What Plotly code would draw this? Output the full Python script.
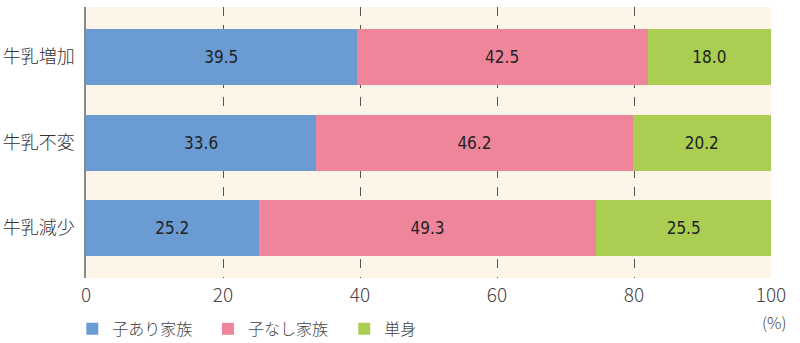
import plotly.graph_objects as go

categories = ["牛乳増加", "牛乳不変", "牛乳減少"]
series_names = ["子あり家族", "子なし家族", "単身"]
with_children = [39.5, 33.6, 25.2]
without_children = [42.5, 46.2, 49.3]
single = [18.0, 20.2, 25.5]
x_ticks = [0, 20, 40, 60, 80, 100]

colors = ["#6b9bd3", "#ef859a", "#a9ce52"]
values = [with_children, without_children, single]
legend_ids = ["legend", "legend2", "legend3"]
legend_x = [-0.02, 0.178, 0.377]

fig = go.Figure()
for name, vals, col, lg in zip(series_names, values, colors, legend_ids):
    fig.add_trace(go.Bar(
        y=categories, x=vals, name=name, orientation="h",
        marker=dict(color=col, line=dict(width=0)),
        text=[f"{v:.1f}" for v in vals],
        textposition="inside", insidetextanchor="middle",
        textfont=dict(family="DejaVu Sans Condensed, Roboto", size=17, color="#222222"),
        hoverinfo="skip", legend=lg, showlegend=True,
    ))

legend_style = dict(
    orientation="h", xanchor="left",
    yref="container", y=0.041, yanchor="middle",
    font=dict(size=16, color="#444444", weight=300),
    bgcolor="rgba(0,0,0,0)", itemclick=False,
)

fig.update_layout(
    width=800, height=343, showlegend=True,
    barmode="stack", bargap=0.345,
    margin=dict(l=86, r=29, t=7, b=65, autoexpand=False),
    paper_bgcolor="white", plot_bgcolor="#fdf5e8",
    font=dict(family="Noto Sans CJK JP", color="#333333"),
    xaxis=dict(
        range=[0, 100], tickvals=x_ticks, ticktext=[str(t) for t in x_ticks],
        showgrid=True, gridcolor="#555555", griddash="dash", gridwidth=1,
        zeroline=False, showline=False, ticks="", ticklabelstandoff=4,
        tickfont=dict(family="Noto Sans CJK JP", size=19, color="#444444", weight=300),
        fixedrange=True,
    ),
    yaxis=dict(
        range=[2.585, -0.585], showgrid=False, zeroline=False,
        showline=True, linecolor="#888888", linewidth=1.5, ticks="",
        tickfont=dict(family="Noto Sans CJK JP", size=18, color="#333333", weight=300),
        ticklabelstandoff=6, fixedrange=True,
    ),
    annotations=[dict(
        text="(%)", xref="paper", yref="paper", x=1.005, y=-0.162,
        xanchor="center", yanchor="middle", showarrow=False, borderpad=0,
        font=dict(family="Noto Sans CJK JP", size=16, color="#444444", weight=300),
    )],
)
for lg, lx in zip(legend_ids, legend_x):
    fig.update_layout({lg: dict(legend_style, x=lx)})

fig.write_html("out.html")
